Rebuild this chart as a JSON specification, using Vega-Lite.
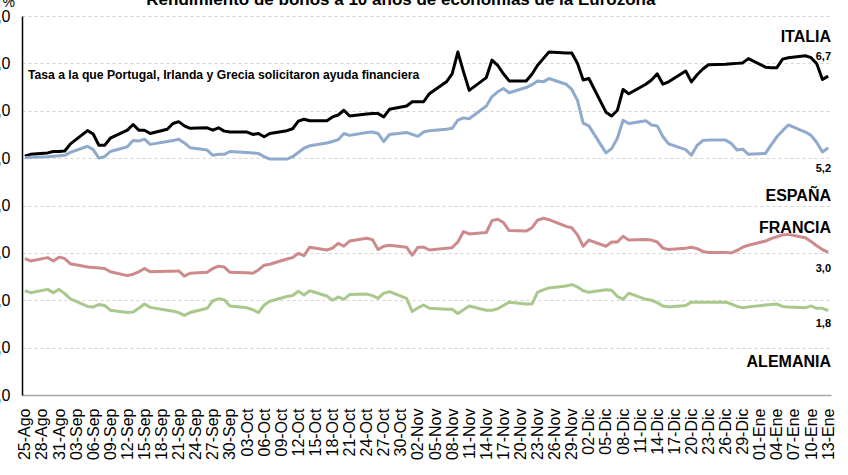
{
  "$schema": "https://vega.github.io/schema/vega-lite/v6.json",
  "width": 809,
  "height": 379,
  "autosize": {"type": "none"},
  "padding": {"left": 22, "top": 16, "right": 17, "bottom": 80},
  "background": "white",
  "config": {
    "view": {"stroke": null},
    "font": "Liberation Sans"
  },
  "datasets": {
    "series": [
      {"d":"2011-08-25","it":5.04,"es":5.01,"fr":2.88,"de":2.20},
      {"d":"2011-08-26","it":5.08,"es":5.02,"fr":2.83,"de":2.16},
      {"d":"2011-08-29","it":5.11,"es":5.03,"fr":2.90,"de":2.23},
      {"d":"2011-08-30","it":5.14,"es":5.04,"fr":2.83,"de":2.16},
      {"d":"2011-08-31","it":5.14,"es":5.05,"fr":2.91,"de":2.23},
      {"d":"2011-09-01","it":5.15,"es":5.06,"fr":2.88,"de":2.14},
      {"d":"2011-09-02","it":5.30,"es":5.12,"fr":2.77,"de":2.03},
      {"d":"2011-09-05","it":5.58,"es":5.25,"fr":2.70,"de":1.87},
      {"d":"2011-09-06","it":5.51,"es":5.18,"fr":2.69,"de":1.86},
      {"d":"2011-09-07","it":5.27,"es":5.00,"fr":2.68,"de":1.91},
      {"d":"2011-09-08","it":5.27,"es":5.03,"fr":2.67,"de":1.89},
      {"d":"2011-09-09","it":5.42,"es":5.14,"fr":2.60,"de":1.79},
      {"d":"2011-09-12","it":5.59,"es":5.24,"fr":2.52,"de":1.74},
      {"d":"2011-09-13","it":5.71,"es":5.37,"fr":2.55,"de":1.75},
      {"d":"2011-09-14","it":5.59,"es":5.36,"fr":2.60,"de":1.83},
      {"d":"2011-09-15","it":5.59,"es":5.40,"fr":2.67,"de":1.92},
      {"d":"2011-09-16","it":5.52,"es":5.29,"fr":2.60,"de":1.85},
      {"d":"2011-09-19","it":5.61,"es":5.35,"fr":2.61,"de":1.79},
      {"d":"2011-09-20","it":5.73,"es":5.37,"fr":2.61,"de":1.77},
      {"d":"2011-09-21","it":5.77,"es":5.40,"fr":2.62,"de":1.74},
      {"d":"2011-09-22","it":5.68,"es":5.32,"fr":2.51,"de":1.68},
      {"d":"2011-09-23","it":5.63,"es":5.22,"fr":2.57,"de":1.74},
      {"d":"2011-09-26","it":5.64,"es":5.17,"fr":2.59,"de":1.83},
      {"d":"2011-09-27","it":5.59,"es":5.06,"fr":2.67,"de":1.99},
      {"d":"2011-09-28","it":5.64,"es":5.08,"fr":2.72,"de":2.03},
      {"d":"2011-09-29","it":5.57,"es":5.08,"fr":2.70,"de":2.01},
      {"d":"2011-09-30","it":5.55,"es":5.14,"fr":2.59,"de":1.88},
      {"d":"2011-10-03","it":5.55,"es":5.12,"fr":2.58,"de":1.84},
      {"d":"2011-10-04","it":5.50,"es":5.11,"fr":2.57,"de":1.80},
      {"d":"2011-10-05","it":5.52,"es":5.10,"fr":2.64,"de":1.74},
      {"d":"2011-10-06","it":5.45,"es":5.03,"fr":2.74,"de":1.90},
      {"d":"2011-10-07","it":5.52,"es":4.98,"fr":2.76,"de":1.98},
      {"d":"2011-10-10","it":5.58,"es":4.98,"fr":2.87,"de":2.08},
      {"d":"2011-10-11","it":5.62,"es":5.03,"fr":2.90,"de":2.10},
      {"d":"2011-10-12","it":5.78,"es":5.12,"fr":2.99,"de":2.19},
      {"d":"2011-10-13","it":5.82,"es":5.21,"fr":2.94,"de":2.11},
      {"d":"2011-10-14","it":5.79,"es":5.26,"fr":3.12,"de":2.20},
      {"d":"2011-10-17","it":5.79,"es":5.32,"fr":3.06,"de":2.09},
      {"d":"2011-10-18","it":5.87,"es":5.35,"fr":3.10,"de":2.00},
      {"d":"2011-10-19","it":5.91,"es":5.39,"fr":3.20,"de":2.07},
      {"d":"2011-10-20","it":6.01,"es":5.52,"fr":3.14,"de":2.02},
      {"d":"2011-10-21","it":5.89,"es":5.48,"fr":3.25,"de":2.12},
      {"d":"2011-10-24","it":5.93,"es":5.54,"fr":3.31,"de":2.13},
      {"d":"2011-10-25","it":5.94,"es":5.55,"fr":3.28,"de":2.10},
      {"d":"2011-10-26","it":5.94,"es":5.52,"fr":3.07,"de":2.04},
      {"d":"2011-10-27","it":5.87,"es":5.35,"fr":3.14,"de":2.15},
      {"d":"2011-10-28","it":6.03,"es":5.50,"fr":3.16,"de":2.18},
      {"d":"2011-10-31","it":6.10,"es":5.54,"fr":3.12,"de":2.04},
      {"d":"2011-11-01","it":6.19,"es":5.50,"fr":2.95,"de":1.76},
      {"d":"2011-11-02","it":6.19,"es":5.46,"fr":3.12,"de":1.84},
      {"d":"2011-11-03","it":6.19,"es":5.55,"fr":3.12,"de":1.90},
      {"d":"2011-11-04","it":6.36,"es":5.58,"fr":3.06,"de":1.83},
      {"d":"2011-11-07","it":6.61,"es":5.61,"fr":3.10,"de":1.81},
      {"d":"2011-11-08","it":6.78,"es":5.63,"fr":3.11,"de":1.81},
      {"d":"2011-11-09","it":7.24,"es":5.80,"fr":3.23,"de":1.72},
      {"d":"2011-11-10","it":6.82,"es":5.85,"fr":3.45,"de":1.80},
      {"d":"2011-11-11","it":6.43,"es":5.83,"fr":3.40,"de":1.88},
      {"d":"2011-11-14","it":6.70,"es":6.10,"fr":3.43,"de":1.79},
      {"d":"2011-11-15","it":7.07,"es":6.30,"fr":3.68,"de":1.79},
      {"d":"2011-11-16","it":6.96,"es":6.40,"fr":3.71,"de":1.82},
      {"d":"2011-11-17","it":6.78,"es":6.47,"fr":3.64,"de":1.89},
      {"d":"2011-11-18","it":6.63,"es":6.38,"fr":3.47,"de":1.96},
      {"d":"2011-11-21","it":6.63,"es":6.49,"fr":3.46,"de":1.92},
      {"d":"2011-11-22","it":6.77,"es":6.55,"fr":3.53,"de":1.92},
      {"d":"2011-11-23","it":6.96,"es":6.63,"fr":3.69,"de":2.17},
      {"d":"2011-11-24","it":7.10,"es":6.61,"fr":3.73,"de":2.22},
      {"d":"2011-11-25","it":7.24,"es":6.68,"fr":3.70,"de":2.26},
      {"d":"2011-11-28","it":7.22,"es":6.56,"fr":3.56,"de":2.30},
      {"d":"2011-11-29","it":7.22,"es":6.45,"fr":3.53,"de":2.33},
      {"d":"2011-11-30","it":7.00,"es":6.22,"fr":3.38,"de":2.28},
      {"d":"2011-12-01","it":6.65,"es":5.74,"fr":3.14,"de":2.20},
      {"d":"2011-12-02","it":6.68,"es":5.68,"fr":3.27,"de":2.17},
      {"d":"2011-12-05","it":5.97,"es":5.11,"fr":3.14,"de":2.22},
      {"d":"2011-12-06","it":5.89,"es":5.20,"fr":3.23,"de":2.21},
      {"d":"2011-12-07","it":6.01,"es":5.42,"fr":3.23,"de":2.08},
      {"d":"2011-12-08","it":6.45,"es":5.80,"fr":3.35,"de":2.02},
      {"d":"2011-12-09","it":6.36,"es":5.73,"fr":3.27,"de":2.15},
      {"d":"2011-12-12","it":6.56,"es":5.79,"fr":3.28,"de":2.02},
      {"d":"2011-12-13","it":6.65,"es":5.70,"fr":3.27,"de":2.00},
      {"d":"2011-12-14","it":6.78,"es":5.68,"fr":3.23,"de":1.95},
      {"d":"2011-12-15","it":6.56,"es":5.45,"fr":3.10,"de":1.88},
      {"d":"2011-12-16","it":6.61,"es":5.30,"fr":3.07,"de":1.86},
      {"d":"2011-12-19","it":6.84,"es":5.18,"fr":3.10,"de":1.89},
      {"d":"2011-12-20","it":6.61,"es":5.06,"fr":3.12,"de":1.96},
      {"d":"2011-12-21","it":6.76,"es":5.27,"fr":3.09,"de":1.96},
      {"d":"2011-12-22","it":6.88,"es":5.37,"fr":3.03,"de":1.96},
      {"d":"2011-12-23","it":6.97,"es":5.38,"fr":3.01,"de":1.96},
      {"d":"2011-12-26","it":6.98,"es":5.38,"fr":3.01,"de":1.96},
      {"d":"2011-12-27","it":6.99,"es":5.31,"fr":3.00,"de":1.92},
      {"d":"2011-12-28","it":7.00,"es":5.17,"fr":3.05,"de":1.87},
      {"d":"2011-12-29","it":7.01,"es":5.19,"fr":3.12,"de":1.84},
      {"d":"2011-12-30","it":7.10,"es":5.08,"fr":3.16,"de":1.86},
      {"d":"2012-01-02","it":6.92,"es":5.10,"fr":3.25,"de":1.90},
      {"d":"2012-01-03","it":6.91,"es":5.28,"fr":3.30,"de":1.91},
      {"d":"2012-01-04","it":6.91,"es":5.45,"fr":3.34,"de":1.92},
      {"d":"2012-01-05","it":7.09,"es":5.58,"fr":3.38,"de":1.87},
      {"d":"2012-01-06","it":7.12,"es":5.70,"fr":3.39,"de":1.86},
      {"d":"2012-01-09","it":7.16,"es":5.55,"fr":3.32,"de":1.84},
      {"d":"2012-01-10","it":7.12,"es":5.48,"fr":3.24,"de":1.88},
      {"d":"2012-01-11","it":6.99,"es":5.33,"fr":3.15,"de":1.83},
      {"d":"2012-01-12","it":6.66,"es":5.13,"fr":3.07,"de":1.83},
      {"d":"2012-01-13","it":6.73,"es":5.22,"fr":3.01,"de":1.78}
    ],
    "names": [
      {"d":"2012-01-13T12:00:00Z","v":7.45,"t":"ITALIA"},
      {"d":"2012-01-13T12:00:00Z","v":4.09,"t":"ESPAÑA"},
      {"d":"2012-01-13T12:00:00Z","v":3.42,"t":"FRANCIA"},
      {"d":"2012-01-13T12:00:00Z","v":0.59,"t":"ALEMANIA"}
    ],
    "ends": [
      {"d":"2012-01-13T12:00:00Z","v":7.07,"t":"6,7"},
      {"d":"2012-01-13T12:00:00Z","v":4.70,"t":"5,2"},
      {"d":"2012-01-13T12:00:00Z","v":2.59,"t":"3,0"},
      {"d":"2012-01-13T12:00:00Z","v":1.43,"t":"1,8"}
    ],
    "note": [
      {"d":"2011-08-25T13:00:00Z","v":6.67,"t":"Tasa a la que Portugal, Irlanda y Grecia solicitaron ayuda financiera"}
    ],
    "heading": [
      {"d":"2011-10-30T00:00:00Z","v":8.24,"t":"Rendimiento de bonos a 10 años de economías de la Eurozona"}
    ]
  },
  "encoding": {
    "x": {
      "field": "d",
      "type": "temporal",
      "scale": {
        "type": "utc",
        "domain": [
          {"year": 2011, "month": 8, "date": 24, "hours": 12, "utc": true},
          {"year": 2012, "month": 1, "date": 13, "hours": 12, "utc": true}
        ]
      },
      "axis": {
        "title": null,
        "grid": false,
        "ticks": false,
        "domainColor": "#A6A6A6",
        "domainWidth": 1.5,
        "labelAngle": -90,
        "labelAlign": "right",
        "labelBaseline": "middle",
        "labelPadding": 13,
        "labelFontSize": 16,
        "labelFont": "Liberation Sans",
        "labelColor": "#000000",
        "labelOverlap": false,
        "labelBound": false,
        "labelFlush": false,
        "values": [
          {"year":2011,"month":8,"date":25,"utc":true},
          {"year":2011,"month":8,"date":28,"utc":true},
          {"year":2011,"month":8,"date":31,"utc":true},
          {"year":2011,"month":9,"date":3,"utc":true},
          {"year":2011,"month":9,"date":6,"utc":true},
          {"year":2011,"month":9,"date":9,"utc":true},
          {"year":2011,"month":9,"date":12,"utc":true},
          {"year":2011,"month":9,"date":15,"utc":true},
          {"year":2011,"month":9,"date":18,"utc":true},
          {"year":2011,"month":9,"date":21,"utc":true},
          {"year":2011,"month":9,"date":24,"utc":true},
          {"year":2011,"month":9,"date":27,"utc":true},
          {"year":2011,"month":9,"date":30,"utc":true},
          {"year":2011,"month":10,"date":3,"utc":true},
          {"year":2011,"month":10,"date":6,"utc":true},
          {"year":2011,"month":10,"date":9,"utc":true},
          {"year":2011,"month":10,"date":12,"utc":true},
          {"year":2011,"month":10,"date":15,"utc":true},
          {"year":2011,"month":10,"date":18,"utc":true},
          {"year":2011,"month":10,"date":21,"utc":true},
          {"year":2011,"month":10,"date":24,"utc":true},
          {"year":2011,"month":10,"date":27,"utc":true},
          {"year":2011,"month":10,"date":30,"utc":true},
          {"year":2011,"month":11,"date":2,"utc":true},
          {"year":2011,"month":11,"date":5,"utc":true},
          {"year":2011,"month":11,"date":8,"utc":true},
          {"year":2011,"month":11,"date":11,"utc":true},
          {"year":2011,"month":11,"date":14,"utc":true},
          {"year":2011,"month":11,"date":17,"utc":true},
          {"year":2011,"month":11,"date":20,"utc":true},
          {"year":2011,"month":11,"date":23,"utc":true},
          {"year":2011,"month":11,"date":26,"utc":true},
          {"year":2011,"month":11,"date":29,"utc":true},
          {"year":2011,"month":12,"date":2,"utc":true},
          {"year":2011,"month":12,"date":5,"utc":true},
          {"year":2011,"month":12,"date":8,"utc":true},
          {"year":2011,"month":12,"date":11,"utc":true},
          {"year":2011,"month":12,"date":14,"utc":true},
          {"year":2011,"month":12,"date":17,"utc":true},
          {"year":2011,"month":12,"date":20,"utc":true},
          {"year":2011,"month":12,"date":23,"utc":true},
          {"year":2011,"month":12,"date":26,"utc":true},
          {"year":2011,"month":12,"date":29,"utc":true},
          {"year":2012,"month":1,"date":1,"utc":true},
          {"year":2012,"month":1,"date":4,"utc":true},
          {"year":2012,"month":1,"date":7,"utc":true},
          {"year":2012,"month":1,"date":10,"utc":true},
          {"year":2012,"month":1,"date":13,"utc":true}
        ],
        "labelExpr": "utcFormat(datum.value, '%d') + '-' + ['Ene','Feb','Mar','Abr','May','Jun','Jul','Ago','Sep','Oct','Nov','Dic'][utcmonth(datum.value)]"
      }
    },
    "y": {
      "field": "v",
      "type": "quantitative",
      "scale": {"domain": [0, 8], "nice": false, "zero": true},
      "axis": {
        "values": [0, 1, 2, 3, 4, 5, 6, 7, 8],
        "title": "%",
        "titleAngle": 0,
        "titleAlign": "left",
        "titleBaseline": "alphabetic",
        "titleX": -20,
        "titleY": -10,
        "titleFontSize": 14,
        "titleFontWeight": "normal",
        "titleFont": "Liberation Sans",
        "titleColor": "#000000",
        "grid": true,
        "gridColor": "#D4D4D4",
        "gridDash": [3, 3],
        "gridWidth": 1,
        "ticks": false,
        "domainColor": "#000000",
        "domainWidth": 1.5,
        "labelPadding": 12,
        "labelFontSize": 16,
        "labelFont": "Liberation Sans",
        "labelColor": "#000000",
        "labelExpr": "replace(format(datum.value, '.1f'), '.', ',')"
      }
    }
  },
  "layer": [
    {
      "data": {"name": "series"},
      "transform": [{"fold": ["it", "es", "fr", "de"], "as": ["pais", "v"]}],
      "mark": {"type": "line", "strokeWidth": 3, "strokeJoin": "round"},
      "encoding": {
        "color": {
          "field": "pais",
          "type": "nominal",
          "scale": {"domain": ["it", "es", "fr", "de"], "range": ["#000000", "#8FAACC", "#CC8A8C", "#AAC88E"]},
          "legend": null
        },
        "order": {"field": "d", "type": "temporal"}
      }
    },
    {
      "data": {"values": [{}]},
      "mark": {"type": "rule", "color": "#FF0000", "strokeWidth": 3, "strokeDash": [28, 4, 6, 4]},
      "encoding": {"y": {"datum": 6}, "x": null}
    },
    {
      "data": {"name": "names"},
      "mark": {"type": "text", "align": "right", "baseline": "alphabetic", "fontSize": 16, "fontWeight": "bold", "font": "Liberation Sans", "color": "#000000"},
      "encoding": {"text": {"field": "t"}}
    },
    {
      "data": {"name": "ends"},
      "mark": {"type": "text", "align": "right", "baseline": "alphabetic", "fontSize": 11, "fontWeight": "bold", "font": "Liberation Sans", "color": "#000000"},
      "encoding": {"text": {"field": "t"}}
    },
    {
      "data": {"name": "note"},
      "mark": {"type": "text", "align": "left", "baseline": "alphabetic", "fontSize": 12.2, "fontWeight": "bold", "font": "Liberation Sans", "color": "#000000"},
      "encoding": {"text": {"field": "t"}}
    },
    {
      "data": {"name": "heading"},
      "mark": {"type": "text", "align": "center", "baseline": "alphabetic", "fontSize": 17, "fontWeight": "bold", "font": "Liberation Sans", "color": "#000000", "clip": false},
      "encoding": {"text": {"field": "t"}}
    }
  ]
}
